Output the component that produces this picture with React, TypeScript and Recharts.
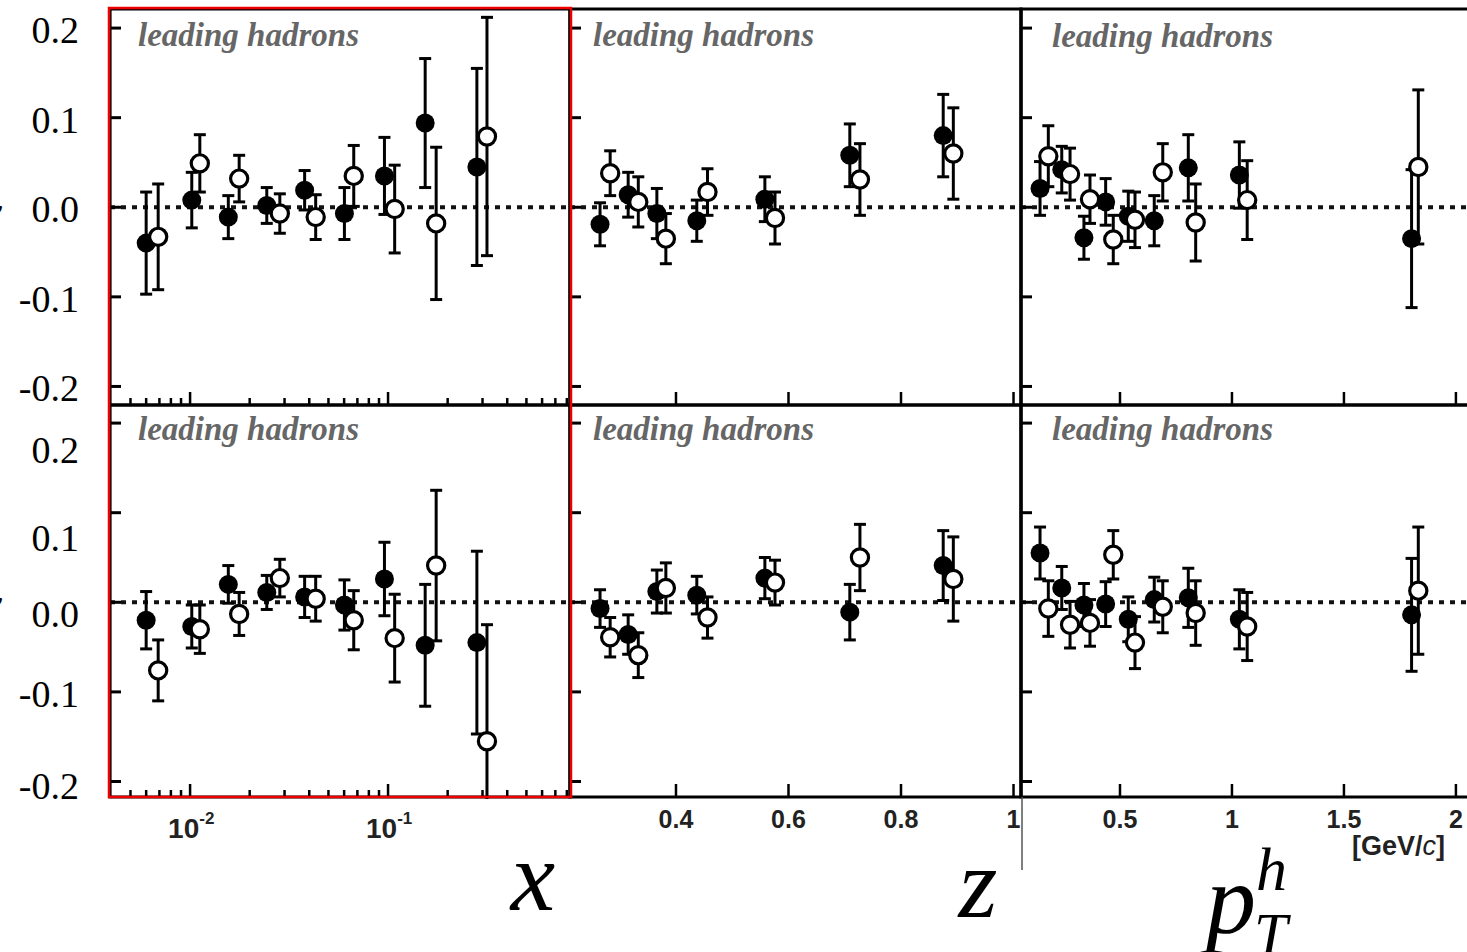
import React from 'react';
import { ScatterChart, Scatter, XAxis, YAxis, ErrorBar, ReferenceLine, ReferenceArea } from 'recharts';

// bin positions; open markers sit a little to the right of the filled ones
const xBinsFilled = [0.006, 0.0102, 0.0156, 0.0244, 0.0379, 0.0602, 0.0959, 0.154, 0.281];
const xBinsOpen = [0.0069, 0.0112, 0.0177, 0.0284, 0.0431, 0.0671, 0.108, 0.175, 0.316];
const zBinsFilled = [0.265, 0.315, 0.366, 0.437, 0.558, 0.709, 0.875];
const zBinsOpen = [0.283, 0.333, 0.382, 0.456, 0.576, 0.727, 0.893];
const ptBinsFilled = [0.143, 0.24, 0.339, 0.436, 0.537, 0.653, 0.805, 1.033, 1.802];
const ptBinsOpen = [0.18, 0.277, 0.366, 0.47, 0.567, 0.691, 0.838, 1.068, 1.832];

// upper row
const xTopFilled = [-0.04, 0.008, -0.011, 0.002, 0.019, -0.007, 0.035, 0.094, 0.045];
const xTopFilledErr = [0.057, 0.031, 0.024, 0.02, 0.022, 0.029, 0.043, 0.072, 0.11];
const xTopOpen = [-0.033, 0.049, 0.032, -0.007, -0.011, 0.035, -0.002, -0.018, 0.079];
const xTopOpenErr = [0.059, 0.032, 0.026, 0.022, 0.025, 0.034, 0.049, 0.085, 0.133];

const zTopFilled = [-0.019, 0.014, -0.007, -0.015, 0.009, 0.058, 0.08];
const zTopFilledErr = [0.024, 0.025, 0.028, 0.023, 0.025, 0.035, 0.046];
const zTopOpen = [0.038, 0.006, -0.035, 0.017, -0.012, 0.031, 0.06];
const zTopOpenErr = [0.025, 0.028, 0.028, 0.026, 0.029, 0.04, 0.051];

const ptTopFilled = [0.021, 0.042, -0.034, 0.006, -0.01, -0.015, 0.044, 0.036, -0.035];
const ptTopFilledErr = [0.03, 0.026, 0.024, 0.026, 0.028, 0.028, 0.037, 0.037, 0.077];
const ptTopOpen = [0.057, 0.037, 0.009, -0.036, -0.014, 0.039, -0.017, 0.008, 0.045];
const ptTopOpenErr = [0.034, 0.029, 0.027, 0.027, 0.031, 0.032, 0.043, 0.044, 0.086];

// lower row
const xBotFilled = [-0.02, -0.027, 0.02, 0.011, 0.006, -0.003, 0.026, -0.048, -0.045];
const xBotFilledErr = [0.032, 0.024, 0.021, 0.019, 0.023, 0.028, 0.041, 0.068, 0.102];
const xBotOpen = [-0.076, -0.03, -0.013, 0.027, 0.004, -0.02, -0.04, 0.041, -0.155];
const xBotOpenErr = [0.034, 0.027, 0.024, 0.021, 0.025, 0.033, 0.049, 0.084, 0.13];

const zBotFilled = [-0.007, -0.036, 0.012, 0.008, 0.027, -0.011, 0.041];
const zBotFilledErr = [0.021, 0.022, 0.024, 0.021, 0.023, 0.031, 0.039];
const zBotOpen = [-0.039, -0.059, 0.016, -0.017, 0.022, 0.05, 0.026];
const zBotOpenErr = [0.022, 0.025, 0.028, 0.023, 0.025, 0.037, 0.047];

const ptBotFilled = [0.055, 0.016, -0.003, -0.002, -0.019, 0.003, 0.005, -0.019, -0.014];
const ptBotFilledErr = [0.029, 0.024, 0.024, 0.025, 0.025, 0.025, 0.033, 0.033, 0.063];
const ptBotOpen = [-0.007, -0.025, -0.023, 0.053, -0.045, -0.005, -0.012, -0.027, 0.013];
const ptBotOpenErr = [0.031, 0.026, 0.026, 0.027, 0.029, 0.029, 0.036, 0.038, 0.071];

// axis ticks
const xTicks = [
  0.005, 0.006, 0.007, 0.008, 0.009, 0.01,
  0.02, 0.03, 0.04, 0.05, 0.06, 0.07, 0.08, 0.09, 0.1,
  0.2, 0.3, 0.4, 0.5, 0.6, 0.7, 0.8,
];
const xMajorTicks = [0.01, 0.1];
const zTicks = [0.4, 0.6, 0.8, 1];
const ptTicks = [0.5, 1, 1.5, 2];
const yTicks = [-0.2, -0.1, 0, 0.1, 0.2];

const X_DOMAIN: [number, number] = [0.00394, 0.83];
const Z_DOMAIN: [number, number] = [0.2116, 1.0133];
const PT_DOMAIN: [number, number] = [0.058, 2.112];
const Y_DOMAIN_TOP: [number, number] = [-0.2207, 0.2213];
const Y_DOMAIN_BOT: [number, number] = [-0.2173, 0.2202];

// the value column beside the lower row sits a bit off its ticks
const BOT_LABEL_SHIFT: Record<string, number> = { '0.2': 27, '0.1': 25, '0.0': 12, '-0.1': 2, '-0.2': 5 };

type Pt = { x: number; y: number; e: number };
const toPoints = (xs: number[], ys: number[], es: number[]): Pt[] =>
  xs.map((x, i) => ({ x, y: ys[i], e: es[i] }));

const SERIF = '"Liberation Serif", "DejaVu Serif", serif';
const SANS = '"Liberation Sans", Arial, sans-serif';

function FilledDot(props: any) {
  return <circle cx={props.cx} cy={props.cy} r={9.5} fill="#000" />;
}

function OpenDot(props: any) {
  return <circle cx={props.cx} cy={props.cy} r={8.6} fill="#fff" stroke="#000" strokeWidth={3.2} />;
}

function XTick(props: any) {
  const { x, y, payload, major, labels } = props;
  const v = payload.value as number;
  const isMajor = major.some((m: number) => Math.abs(m - v) < 1e-9);
  return (
    <g>
      <line x1={x} x2={x} y1={y} y2={y - (isMajor ? 13 : 7)} stroke="#000" strokeWidth={2.5} />
      {labels === 'pow' && isMajor && (
        <text x={x - 22} y={y + 41} fontFamily={SANS} fontWeight="bold" fontSize={28} fill="#222">
          10
          <tspan dy={-14} fontSize={17}>{String(Math.round(Math.log10(v)))}</tspan>
        </text>
      )}
      {labels === 'plain' && (
        <text x={x} y={y + 31} textAnchor="middle" fontFamily={SANS} fontWeight="bold" fontSize={25} fill="#222">
          {String(v)}
        </text>
      )}
    </g>
  );
}

function YTick(props: any) {
  const { x, y, payload, labelMode } = props;
  const v = payload.value as number;
  const text = v.toFixed(1);
  const shift = labelMode === 'bot' ? BOT_LABEL_SHIFT[text] ?? 0 : 2;
  return (
    <g>
      <line x1={x} x2={x + 11} y1={y} y2={y} stroke="#000" strokeWidth={3} />
      {labelMode && (
        <text x={x - 31} y={y + shift} textAnchor="end" dominantBaseline="central" fontFamily={SERIF} fontSize={38} fill="#000">
          {text}
        </text>
      )}
    </g>
  );
}

interface PanelProps {
  plot: { left: number; top: number; width: number; height: number };
  margin: { top: number; right: number; bottom: number; left: number };
  xDomain: [number, number];
  yDomain: [number, number];
  log?: boolean;
  ticks: number[];
  major: number[];
  xLabels?: 'pow' | 'plain';
  yLabels?: 'top' | 'bot';
  filled: Pt[];
  open: Pt[];
}

// axes get a 1px band (a zero-size axis is not rendered), taken out of the margins
const AXIS_BAND = 1;

function Panel({ plot, margin, xDomain, yDomain, log, ticks, major, xLabels, yLabels, filled, open }: PanelProps) {
  const width = margin.left + plot.width + margin.right;
  const height = margin.top + plot.height + margin.bottom;
  const chartMargin = {
    top: margin.top,
    right: margin.right,
    bottom: margin.bottom - AXIS_BAND,
    left: margin.left - AXIS_BAND,
  };
  return (
    <div style={{ position: 'absolute', left: plot.left - margin.left, top: plot.top - margin.top }}>
      <ScatterChart width={width} height={height} margin={chartMargin}>
        <XAxis
          type="number"
          dataKey="x"
          domain={xDomain}
          scale={log ? 'log' : 'linear'}
          allowDataOverflow
          ticks={ticks}
          interval={0}
          height={AXIS_BAND}
          tickSize={0}
          tickMargin={0}
          axisLine={false}
          tickLine={false}
          tick={(p: any) => <XTick {...p} major={major} labels={xLabels} />}
        />
        <YAxis
          type="number"
          dataKey="y"
          domain={yDomain}
          allowDataOverflow
          ticks={yTicks}
          interval={0}
          width={AXIS_BAND}
          tickSize={0}
          tickMargin={0}
          axisLine={false}
          tickLine={false}
          tick={(p: any) => <YTick {...p} labelMode={yLabels} />}
        />
        <ReferenceArea
          x1={xDomain[0]}
          x2={xDomain[1]}
          y1={yDomain[0]}
          y2={yDomain[1]}
          fill="none"
          fillOpacity={0}
          stroke="#000"
          strokeWidth={3.2}
          ifOverflow="visible"
        />
        <ReferenceLine y={0} stroke="#111" strokeWidth={4} strokeDasharray="5 6" />
        <Scatter data={filled} isAnimationActive={false} shape={FilledDot}>
          <ErrorBar dataKey="e" direction="y" width={6} stroke="#000" strokeWidth={3} isAnimationActive={false} />
        </Scatter>
        <Scatter data={open} isAnimationActive={false} shape={OpenDot}>
          <ErrorBar dataKey="e" direction="y" width={6} stroke="#000" strokeWidth={3} isAnimationActive={false} />
        </Scatter>
      </ScatterChart>
    </div>
  );
}

const COL_X = { left: 110, width: 460 };
const COL_Z = { left: 570, width: 451 };
const COL_PT = { left: 1021, width: 460 };
const ROW_TOP = { top: 9, height: 396 };
const ROW_BOT = { top: 405, height: 392 };

function Caption({ x, y }: { x: number; y: number }) {
  return (
    <text x={x} y={y} fontFamily={SERIF} fontStyle="italic" fontWeight="bold" fontSize={33} fill="#666">
      leading hadrons
    </text>
  );
}

export default function App() {
  return (
    <div style={{ position: 'absolute', left: 0, top: 0, width: 1467, height: 952, overflow: 'hidden', background: '#fff' }}>
      {/* upper row */}
      <Panel
        plot={{ ...COL_X, ...ROW_TOP }}
        margin={{ top: 9, right: 4, bottom: 4, left: 110 }}
        xDomain={X_DOMAIN}
        yDomain={Y_DOMAIN_TOP}
        log
        ticks={xTicks}
        major={xMajorTicks}
        yLabels="top"
        filled={toPoints(xBinsFilled, xTopFilled, xTopFilledErr)}
        open={toPoints(xBinsOpen, xTopOpen, xTopOpenErr)}
      />
      <Panel
        plot={{ ...COL_Z, ...ROW_TOP }}
        margin={{ top: 4, right: 4, bottom: 4, left: 4 }}
        xDomain={Z_DOMAIN}
        yDomain={Y_DOMAIN_TOP}
        ticks={zTicks}
        major={zTicks}
        filled={toPoints(zBinsFilled, zTopFilled, zTopFilledErr)}
        open={toPoints(zBinsOpen, zTopOpen, zTopOpenErr)}
      />
      <Panel
        plot={{ ...COL_PT, ...ROW_TOP }}
        margin={{ top: 4, right: 4, bottom: 4, left: 4 }}
        xDomain={PT_DOMAIN}
        yDomain={Y_DOMAIN_TOP}
        ticks={ptTicks}
        major={ptTicks}
        filled={toPoints(ptBinsFilled, ptTopFilled, ptTopFilledErr)}
        open={toPoints(ptBinsOpen, ptTopOpen, ptTopOpenErr)}
      />

      {/* lower row */}
      <Panel
        plot={{ ...COL_X, ...ROW_BOT }}
        margin={{ top: 4, right: 4, bottom: 60, left: 110 }}
        xDomain={X_DOMAIN}
        yDomain={Y_DOMAIN_BOT}
        log
        ticks={xTicks}
        major={xMajorTicks}
        xLabels="pow"
        yLabels="bot"
        filled={toPoints(xBinsFilled, xBotFilled, xBotFilledErr)}
        open={toPoints(xBinsOpen, xBotOpen, xBotOpenErr)}
      />
      <Panel
        plot={{ ...COL_Z, ...ROW_BOT }}
        margin={{ top: 4, right: 4, bottom: 60, left: 4 }}
        xDomain={Z_DOMAIN}
        yDomain={Y_DOMAIN_BOT}
        ticks={zTicks}
        major={zTicks}
        xLabels="plain"
        filled={toPoints(zBinsFilled, zBotFilled, zBotFilledErr)}
        open={toPoints(zBinsOpen, zBotOpen, zBotOpenErr)}
      />
      <Panel
        plot={{ ...COL_PT, ...ROW_BOT }}
        margin={{ top: 4, right: 4, bottom: 60, left: 4 }}
        xDomain={PT_DOMAIN}
        yDomain={Y_DOMAIN_BOT}
        ticks={ptTicks}
        major={ptTicks}
        xLabels="plain"
        filled={toPoints(ptBinsFilled, ptBotFilled, ptBotFilledErr)}
        open={toPoints(ptBinsOpen, ptBotOpen, ptBotOpenErr)}
      />

      {/* captions, axis titles and the highlight box */}
      <svg width={1467} height={952} style={{ position: 'absolute', left: 0, top: 0, pointerEvents: 'none' }}>
        {/* error bars are not clipped by the plot area; hide the part below the x panel frame */}
        <rect x={420} y={799} width={148} height={58} fill="#fff" />

        <Caption x={138} y={46} />
        <Caption x={593} y={46} />
        <Caption x={1052} y={47} />
        <Caption x={138} y={440} />
        <Caption x={593} y={440} />
        <Caption x={1052} y={440} />

        <text x={-15} y={224} fontFamily={SERIF} fontStyle="italic" fontSize={38}>y</text>
        <text x={-15} y={616} fontFamily={SERIF} fontStyle="italic" fontSize={38}>y</text>

        <text x={1352} y={855} fontFamily={SANS} fontWeight="bold" fontSize={27} fill="#222">
          [GeV/<tspan fontStyle="italic" fontWeight="normal">c</tspan>]
        </text>

        <line x1={1022} x2={1022} y1={797} y2={870} stroke="#555" strokeWidth={1.5} />

        <text x={533} y={910} textAnchor="middle" fontFamily={SERIF} fontStyle="italic" fontSize={100}>x</text>
        <text x={978} y={917} textAnchor="middle" fontFamily={SERIF} fontStyle="italic" fontSize={100}>z</text>
        <text x={1206} y={933} fontFamily={SERIF} fontStyle="italic" fontSize={100}>p</text>
        <text x={1256} y={890} fontFamily={SERIF} fontStyle="italic" fontSize={62}>h</text>
        <text x={1254} y={954} fontFamily={SERIF} fontStyle="italic" fontSize={60}>T</text>

        <rect x={109} y={8} width={462} height={789} fill="none" stroke="#ee0000" strokeWidth={2.5} />
      </svg>
    </div>
  );
}
